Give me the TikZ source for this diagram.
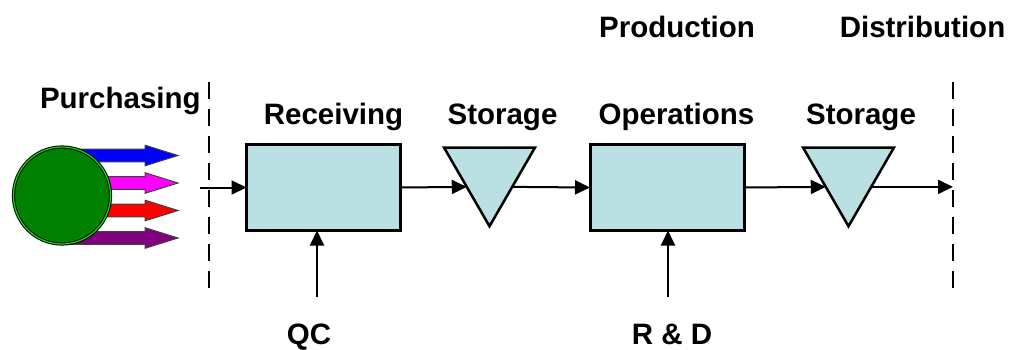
\documentclass[tikz,border=0pt]{standalone}
\usepackage{fontspec}
\setmainfont{Liberation Sans}
\usetikzlibrary{arrows.meta,shapes.geometric}
\definecolor{boxfill}{RGB}{187,224,227}
\definecolor{srcgreen}{RGB}{0,128,0}
\definecolor{ringgreen}{RGB}{0,230,0}
\definecolor{arrblue}{RGB}{0,0,255}
\definecolor{arrmag}{RGB}{255,0,255}
\definecolor{arrred}{RGB}{255,0,0}
\definecolor{arrpurple}{RGB}{128,0,128}
\begin{document}
\begin{tikzpicture}[x=1pt,y=-1pt,
  lbl/.style={font=\fontsize{29.5}{32}\selectfont\bfseries, inner sep=0pt, outer sep=0pt},
  procbox/.style={draw=black, line width=3pt, fill=boxfill, minimum width=154pt, minimum height=86pt, inner sep=0pt, outer sep=0pt},
  stortri/.style={draw=black, line width=2.5pt, fill=boxfill, regular polygon, regular polygon sides=3, shape border rotate=180, minimum size=105pt, inner sep=0pt, outer sep=0pt},
  flow/.style={draw=black, line width=2pt, -{Triangle[length=15pt,width=14pt]}},
  divider/.style={draw=black, line width=2pt, dash pattern=on 17pt off 10pt},
  fat/.style={draw=black!75, line width=1pt},
]
\useasboundingbox (0,0) rectangle (1015,349);

% fat arrows behind the source circle
\foreach \c/\col in {155.5/arrblue, 183/arrmag, 210.5/arrred, 238/arrpurple}{
  \path[fat, fill=\col] (60,\c-6.3) -- (145,\c-6.3) -- (145,\c-10.3) -- (178,\c)
     -- (145,\c+10.3) -- (145,\c+6.3) -- (60,\c+6.3) -- cycle;
}
\node[circle, draw=black, line width=1pt, double=ringgreen, double distance=1.2pt,
      fill=srcgreen, minimum size=97pt, inner sep=0pt] (src) at (62,195.5) {};

% dividers
\coordinate (dl1) at (209,82);
\coordinate (dl2) at (209,296);
\coordinate (dr1) at (953,82);
\coordinate (dr2) at (953,296);
\draw[divider] (dl1) -- (dl2);
\draw[divider] (dr1) -- (dr2);

% process elements
\node[procbox] (rec) at (323.5,187.5) {};
\node[stortri] (st1) at (489.5,173.75) {};
\node[procbox] (ops) at (667,187.5) {};
\node[stortri] (st2) at (848.5,173.75) {};

% labels
\node[lbl, anchor=base west] (purch) at (40,108) {Purchasing};
\node[lbl, anchor=base] (trec) at (333.5,124) {Receiving};
\node[lbl, anchor=base] (tst1) at (502.5,124) {Storage};
\node[lbl, anchor=base] (tops) at (676.5,124) {Operations};
\node[lbl, anchor=base] (tst2) at (861,124) {Storage};
\node[lbl, anchor=base] (tprod) at (677,37) {Production};
\node[lbl, anchor=base] (tdist) at (922.5,37) {Distribution};
\node[lbl, anchor=base] (tqc) at (309,344.5) {QC};
\node[lbl, anchor=base] (trd) at (672,344.5) {R \& D};

% flow connectors
\coordinate (inflow) at (200,187.5);
\coordinate (qcstart) at (317,297);
\coordinate (rdstart) at (668,297);
\draw[flow] (inflow) -- (rec.west);
\draw[flow] (rec.east) -- (st1.side 3);
\draw[flow] (st1.side 1) -- (ops.west);
\draw[flow] (ops.east) -- (st2.side 3);
\draw[flow] (st2.side 1) -- (st2.side 1 -| dr1);
\draw[flow] (qcstart) -- (qcstart |- rec.south);
\draw[flow] (rdstart) -- (rdstart |- ops.south);
\end{tikzpicture}
\end{document}
